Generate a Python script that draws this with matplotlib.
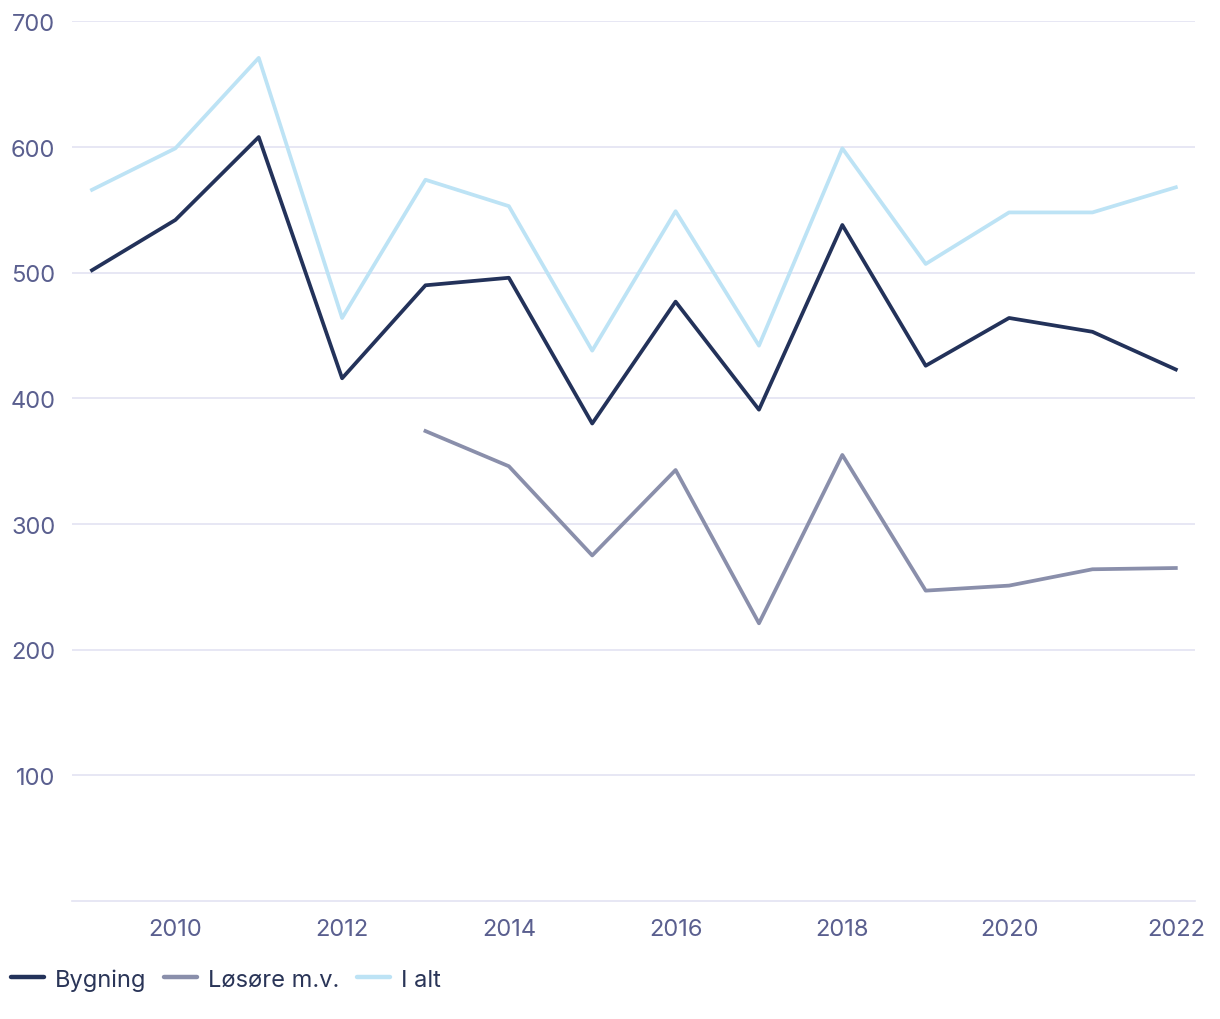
import matplotlib
matplotlib.use("Agg")
import matplotlib.pyplot as plt
import numpy as np

years = list(range(2009, 2023))
bygning = [502, 542, 608, 416, 490, 496, 380, 477, 391, 538, 426, 464, 453, 423]
losore = [np.nan, np.nan, np.nan, np.nan, 374, 346, 275, 343, 221, 355, 247, 251, 264, 265]
i_alt = [566, 599, 671, 464, 574, 553, 438, 549, 442, 599, 507, 548, 548, 568]

plt.rcParams['font.family'] = ['Inter', 'DejaVu Sans']

fig = plt.figure(figsize=(12.2, 10.2), dpi=100)
ax = fig.add_axes([0.059, 0.1157, 0.9205, 0.8623])

ax.plot(years, bygning, color='#23325a', lw=2.7, label='Bygning')
ax.plot(years, losore, color='#8a8fab', lw=2.7, label='Løsøre m.v.')
ax.plot(years, i_alt, color='#bde3f5', lw=2.7, label='I alt')

ax.set_xlim(2008.76, 2022.23)
ax.set_ylim(0, 700)
ax.set_yticks([100, 200, 300, 400, 500, 600, 700])
ax.set_xticks([2010, 2012, 2014, 2016, 2018, 2020, 2022])
ax.grid(axis='y', color='#e3e3f2', lw=1.2)
ax.set_axisbelow(True)
for s in ['top', 'right', 'left']:
    ax.spines[s].set_visible(False)
ax.spines['bottom'].set_color('#e3e3f2')
ax.spines['bottom'].set_linewidth(1.2)
ax.tick_params(axis='both', length=0, labelsize=17, colors='#5a5f8f')
ax.tick_params(axis='y', pad=12)
ax.tick_params(axis='x', pad=12)

leg = ax.legend(loc='lower left', bbox_to_anchor=(-0.054, -0.102), ncol=3, frameon=False,
                fontsize=17, handlelength=1.4, handletextpad=0.45, columnspacing=0.75,
                borderaxespad=0, borderpad=0)
for t in leg.get_texts():
    t.set_color('#2a3558')
for h in leg.legend_handles:
    h.set_solid_capstyle('round')
    h.set_linewidth(3.2)

fig.savefig('out.png', dpi=100)
